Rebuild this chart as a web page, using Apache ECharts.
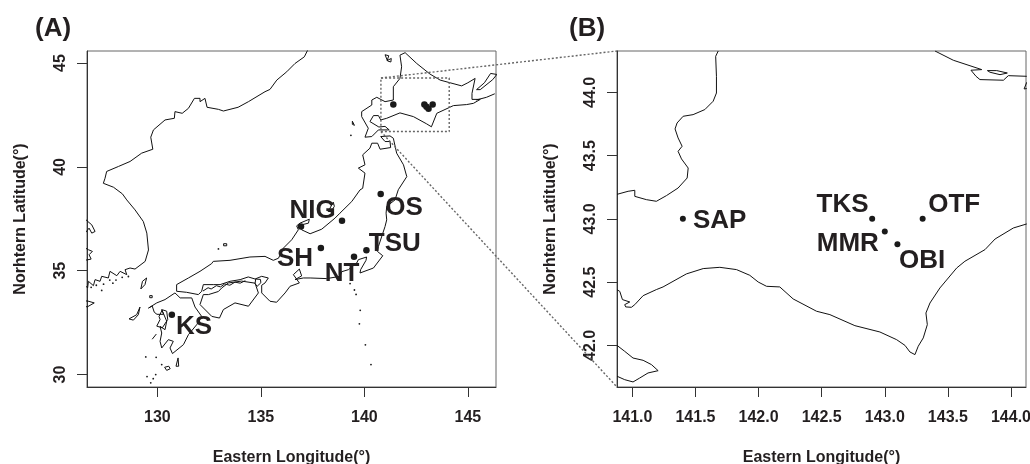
<!DOCTYPE html>
<html><head><meta charset="utf-8">
<style>html,body{margin:0;padding:0;background:#fff}#c{width:1030px;height:464px}</style>
<script src="https://cdn.jsdelivr.net/npm/echarts@6/dist/echarts.min.js"></script>
</head><body><div id="c"></div>
<script>
// Tick values
const xTicksA=[130,135,140,145], yTicksA=[30,35,40,45];
const xTicksB=[141,141.5,142,142.5,143,143.5,144], yTicksB=[42,42.5,43,43.5,44];
// Stations
const sitesA=[[141.4,43],[142.9,43],[143,42.9],[143.1,42.8],[143.3,43],[138.92,37.4],[140.79,38.69],[140.1,35.98],[139.5,35.67],[137.9,36.09],[136.94,37.13],[130.7,32.88]];
const labelsA=[[137.5,37.88,'NIG'],[141.92,38.04,'OS'],[141.47,36.31,'TSU'],[136.65,35.59,'SH'],[138.92,34.87,'NT'],[131.77,32.3,'KS']];
const sitesB=[[141.4,43],[142.9,43],[143,42.9],[143.1,42.8],[143.3,43]];
const labelsB=[[141.692,42.984,'SAP'],[142.665,43.108,'TKS'],[143.55,43.108,'OTF'],[142.707,42.8,'MMR'],[143.295,42.669,'OBI']];
// Inset rectangle in panel A and panel B view limits
const insetLon=[140.8,144.1], insetLat=[41.7,44.28];
const viewB={lon:[140.878,144.119],lat:[41.671,44.327]};
// Panel A coastlines [lon,lat]
const mainland=[[136.65,44.98],[136.25,44.58],[135.77,44.18],[135.44,43.73],[135.2,43.62],[134.4,43.14],[133.9,42.87],[133.19,42.69],[132.95,42.77],[132.4,42.87],[132.3,43.3],[132.06,43.14],[132.06,43.3],[131.79,43.3],[131.5,42.82],[131.2,42.58],[130.85,42.66],[130.82,42.34],[130.37,42.26],[129.81,41.78],[129.68,41.43],[129.78,40.85],[129.24,40.66],[128.68,40.26],[128.12,40.02],[127.55,39.78],[127.47,39.45],[127.39,39.21],[127.88,39.02],[128.31,38.7],[128.52,38.41],[128.92,37.93],[129.32,37.37],[129.49,36.81],[129.57,36],[129.41,35.45],[128.92,35.08],[128.68,35.13],[128.44,35.05],[128.52,34.81],[128.2,34.97],[128.04,34.76],[127.71,34.97],[127.63,34.65],[127.31,34.73],[127.23,34.49],[126.99,34.57],[126.91,34.28],[126.67,34.49],[126.63,34.17],[126.5,34.3]];
const mainlandTop=[[136.65,44.98],[137.1,45.3],[137.3,45.7]];
const westKorea=[[126.5,37.5],[126.64,37.37],[126.83,37.21],[126.99,36.89],[126.83,36.81],[126.7,37.05],[126.5,36.8]];
const westKorea2=[[126.5,36.1],[126.67,36.01],[126.86,35.93],[126.7,35.77],[126.8,35.56],[126.5,35.5]];
const hokkaido=[[141.97,45.5],[141.72,45.38],[141.8,44.82],[141.72,44.26],[141.4,43.86],[141.4,43.22],[141,43.14],[140.6,43.35],[140.36,43.22],[140.36,42.98],[139.87,42.66],[139.87,42.42],[140.19,41.86],[140.03,41.43],[140.36,41.46],[140.68,41.78],[141.2,41.78],[141,41.95],[140.7,41.92],[140.27,42.18],[140.44,42.47],[140.68,42.47],[140.79,42.26],[141.08,42.34],[141.72,42.6],[142.37,42.42],[143.01,42.07],[143.24,41.93],[143.5,42.58],[144.3,42.95],[144.94,43],[145.27,43.06],[145.6,43.25],[145.2,43.25],[145.2,43.54],[145.35,44.26],[145,44.05],[144.7,43.9],[144.14,44.05],[143.66,44.18],[143.17,44.47],[142.53,44.98],[141.97,45.5]];
const honshu=[[140.36,41.14],[140.27,40.9],[139.92,40.58],[140.03,40.1],[139.71,39.94],[140.03,39.7],[139.92,38.97],[139.79,38.89],[139.39,38.33],[138.82,37.77],[138.58,37.53],[137.94,37],[137.38,36.78],[136.97,36.97],[136.97,37.21],[137.3,37.29],[137.34,37.48],[136.89,37.29],[136.73,37.16],[136.81,36.97],[136.49,36.49],[136.09,36.09],[135.85,35.6],[135.6,35.5],[135.2,35.69],[134.47,35.66],[133.51,35.5],[132.7,35.45],[132.62,35.34],[132.06,34.97],[131.5,34.65],[130.93,34.33],[130.93,34.01],[131.41,33.96],[131.98,33.85],[132.14,34.01],[132.22,34.33],[132.7,34.33],[133.03,34.33],[133.51,34.49],[134,34.57],[134.39,34.7],[134.72,34.6],[135.04,34.73],[135.36,34.65],[135.2,34.41],[135.04,34.3],[135.04,33.93],[135.44,33.53],[135.76,33.48],[136.17,33.93],[136.41,34.25],[136.86,34.41],[136.57,34.81],[136.86,35.08],[136.97,34.75],[136.65,34.57],[137.05,34.65],[137.38,34.65],[138.18,34.62],[138.83,34.73],[138.9,34.95],[139.23,35.05],[139.63,35.37],[139.71,35.53],[140.11,35.66],[140.08,35.5],[139.82,35.05],[139.79,34.89],[140.44,35.13],[140.89,35.72],[140.63,35.93],[140.68,36.17],[141,37.13],[141.08,37.45],[141.05,37.77],[141.08,38.1],[141.48,38.41],[141.64,38.9],[142.05,39.53],[141.89,40.1],[141.56,40.66],[141.4,41.38],[141.48,41.38],[141.24,41.49],[140.79,41.46],[141,41.22],[141.24,41.22],[141.27,40.93],[140.76,40.85],[140.64,41.14],[140.36,41.14]];
const shikoku=[[132.22,33.85],[132.06,33.37],[132.63,32.8],[133,32.72],[133.19,33.13],[133.75,33.45],[134.4,33.29],[134.88,33.93],[134.72,34.4],[134.07,34.5],[133.43,34.41],[133.11,34.17],[132.95,34],[132.47,33.85],[132.22,33.85]];
const kyushu=[[129.57,33.2],[129.97,33.45],[130.37,33.61],[130.85,33.93],[131.1,33.69],[131.66,33.69],[131.82,33.25],[132.14,32.8],[131.9,32.4],[131.5,31.92],[131.26,31.44],[130.73,31.01],[130.61,31.28],[130.77,31.6],[130.53,31.68],[130.21,31.28],[130.13,31.6],[130.21,32],[130.13,32.32],[130.37,32.16],[130.45,32.57],[130.21,33.13],[130.3,32.9],[129.98,32.9],[129.85,33],[129.75,33.3],[129.57,33.2]];
const ariake=[[130.08,32.8],[130.24,33.12],[130.45,33.05],[130.5,32.65],[130.24,32.25],[129.97,32.33],[130.13,32.65],[130.08,32.8]];
const seto=[[132.2,34.02],[132.45,34.18],[132.6,34.12],[132.85,34.28],[133.05,34.22],[133.25,34.36],[133.5,34.3],[133.75,34.45],[134,34.4],[134.25,34.52]];
const awaji=[[134.75,34.6],[134.98,34.58],[135,34.42],[134.82,34.25],[134.72,34.38],[134.75,34.6]];
const goto=[[128.63,32.68],[129,32.88],[129.16,33.25],[129.08,32.88],[128.84,32.62],[128.63,32.68]];
const tsushima=[[129.2,34.12],[129.28,34.49],[129.48,34.65],[129.4,34.33],[129.2,34.12]];
const iki=[[129.63,33.8],[129.75,33.8],[129.75,33.7],[129.63,33.7],[129.63,33.8]];
const yakushima=[[130.35,30.35],[130.55,30.4],[130.62,30.28],[130.45,30.2],[130.35,30.35]];
const tanegashima=[[130.9,30.4],[131,30.8],[131.07,30.8],[131.03,30.4],[130.9,30.4]];
const koshiki=[[129.75,31.7],[129.95,31.95]];
const oki=[[133.2,36.3],[133.35,36.3],[133.35,36.2],[133.2,36.2],[133.2,36.3]];
const jeju=[[126.3,33.45],[126.6,33.55],[126.95,33.45],[126.6,33.25],[126.3,33.45]];
const sado=[[138.25,37.85],[138.5,38.3],[138.55,38.1],[138.4,37.85],[138.25,37.85]];
const rishiri=[[141.0,45.4],[141.18,45.35],[141.1,45.12],[141.3,45.22],[141.28,45.05],[141.12,45.1],[141.0,45.4]];
const okushiri=[[139.42,42.2],[139.48,42.2],[139.52,42],[139.42,42.05],[139.42,42.2]];
const kunashiri=[[145.42,43.72],[145.8,44.05],[146.1,44.5],[146.4,44.45],[146.2,44.2],[145.6,43.72],[145.42,43.72]];
const habomai=[[145.4,43.22],[145.9,43.35],[146.3,43.52]];
const islets=[[139.31,34.38],[139.52,34.07],[139.6,33.86],[139.8,33.09],[139.76,32.44],[140.05,31.43],[140.32,30.48],[129.44,30.85],[129.94,30.83],[130.21,30.48],[129.5,29.9],[129.92,30],[129.8,29.8],[129.68,29.6],[127.31,34.05],[132.95,36.05],[139.35,41.52],[126.8,34.2],[127.05,34.3],[127.4,34.35],[127.7,34.55],[128,34.55],[128.3,34.68],[128.6,34.72],[127.85,34.4]];
// Panel B coastlines [lon,lat]
const westB=[[141.68,44.327],[141.66,44.285],[141.666,44.127],[141.666,43.995],[141.64,43.93],[141.574,43.864],[141.481,43.824],[141.402,43.811],[141.354,43.758],[141.338,43.711],[141.362,43.64],[141.394,43.574],[141.362,43.534],[141.389,43.474],[141.442,43.402],[141.434,43.323],[141.362,43.244],[141.27,43.184],[141.19,43.139],[141.111,43.152],[141.019,43.178],[141.019,43.226],[140.966,43.218],[140.878,43.194]];
const pacificB=[[140.878,42.44],[140.9,42.427],[140.921,42.362],[140.979,42.343],[140.984,42.33],[140.939,42.322],[140.947,42.304],[140.992,42.301],[141.019,42.322],[141.085,42.393],[141.19,42.441],[141.243,42.462],[141.428,42.565],[141.561,42.607],[141.693,42.617],[141.825,42.599],[141.93,42.554],[141.997,42.501],[142.063,42.467],[142.168,42.462],[142.274,42.367],[142.459,42.27],[142.565,42.243],[142.763,42.156],[142.961,42.106],[143.094,42.045],[143.16,42],[143.199,41.948],[143.239,41.927],[143.265,41.993],[143.305,42.059],[143.337,42.164],[143.326,42.256],[143.358,42.335],[143.437,42.454],[143.57,42.612],[143.635,42.665],[143.794,42.757],[143.874,42.841],[144.019,42.928],[144.125,42.96]];
const southB=[[140.878,42],[140.939,41.953],[141.005,41.9],[141.085,41.882],[141.151,41.848],[141.204,41.8],[141.124,41.782],[141.058,41.742],[141.005,41.711],[140.939,41.729],[140.878,41.756]];
const northB=[[143.398,44.327],[143.543,44.254],[143.768,44.18],[143.683,44.175],[143.723,44.127],[143.754,44.101],[143.94,44.096],[143.979,44.132],[144.125,44.127]];
const lagoonB=[[143.813,44.172],[143.887,44.172],[143.971,44.153],[143.913,44.14],[143.834,44.159],[143.813,44.172]];
const cornerB=[[144.125,44.08],[144.104,44.027],[144.125,44.03]];

const coastsA=[mainland,mainlandTop,westKorea,westKorea2,hokkaido,honshu,shikoku,kyushu,ariake,seto,awaji,goto,tsushima,iki,yakushima,tanegashima,koshiki,oki,jeju,sado,rishiri,okushiri,kunashiri,habomai];
const coastsB=[westB,pacificB,southB,northB,lagoonB,cornerB];

const FONT='"Liberation Sans",Arial,sans-serif', INK='#231f20';
const coast=(d,i)=>({type:'line',data:d,xAxisIndex:i,yAxisIndex:i,showSymbol:false,symbol:'none',clip:true,silent:true,z:2,
  lineStyle:{color:'#111',width:1,join:'round'}});
const dots=(d,i,s)=>({type:'scatter',data:d,xAxisIndex:i,yAxisIndex:i,symbolSize:s,silent:true,z:3,itemStyle:{color:'#1a1a1a',opacity:1}});
const names=(d,i)=>({type:'scatter',data:d,xAxisIndex:i,yAxisIndex:i,symbolSize:0,silent:true,z:5,itemStyle:{opacity:1},
  label:{show:true,position:'inside',formatter:p=>p.value[2],fontFamily:FONT,fontWeight:'bold',fontSize:26,color:INK,opacity:1}});
const frame=(lon,lat)=>[[lon[0],lat[0]],[lon[1],lat[0]],[lon[1],lat[1]],[lon[0],lat[1]],[lon[0],lat[0]]];
const axisBase=(vals,fmt,g)=>({type:'value',gridIndex:g,
  axisLine:{show:true,onZero:false,lineStyle:{color:'#333',width:1}},
  axisTick:{show:true,length:10,inside:false,customValues:vals,lineStyle:{color:'#333',width:1}},
  axisLabel:{show:true,customValues:vals,formatter:fmt,fontFamily:FONT,fontWeight:'bold',fontSize:16,color:INK},
  splitLine:{show:false},
  nameLocation:'middle',nameTextStyle:{fontFamily:FONT,fontWeight:'bold',fontSize:16,color:INK}});
const xAxis=(min,max,vals,fmt,g)=>{const a=axisBase(vals,fmt,g);a.min=min;a.max=max;a.position='bottom';a.name='Eastern Longitude(\u00b0)';a.nameGap=63;a.axisLabel.margin=23;return a;};
const yAxis=(min,max,vals,fmt,g)=>{const a=axisBase(vals,fmt,g);a.min=min;a.max=max;a.position='left';a.name='Norhtern Latitude(\u00b0)';a.nameGap=58;a.nameRotate=90;a.axisLabel.rotate=90;a.axisLabel.margin=18;return a;};

const option={animation:false,backgroundColor:'#fff',
 title:[
  {text:'(A)',left:30,top:11,textStyle:{fontFamily:FONT,fontWeight:'bold',fontSize:26,color:INK}},
  {text:'(B)',left:564,top:11,textStyle:{fontFamily:FONT,fontWeight:'bold',fontSize:26,color:INK}}],
 grid:[
  {left:87,top:51,width:409,height:336,outerBoundsMode:'none',show:true,borderColor:'#666',borderWidth:1,backgroundColor:'transparent'},
  {left:617,top:51,width:409,height:336,outerBoundsMode:'none',show:true,borderColor:'#666',borderWidth:1,backgroundColor:'transparent'}],
 xAxis:[xAxis(126.6,146.36,xTicksA,v=>String(v),0),xAxis(viewB.lon[0],viewB.lon[1],xTicksB,v=>v.toFixed(1),1)],
 yAxis:[yAxis(29.4,45.58,yTicksA,v=>String(v),0),yAxis(viewB.lat[0],viewB.lat[1],yTicksB,v=>v.toFixed(1),1)],
 series:[
  ...coastsA.map(c=>coast(c,0)),
  ...coastsB.map(c=>coast(c,1)),
  dots(islets,0,1.8),
  dots(sitesA,0,6.5),dots(sitesB,1,6),
  names(labelsA,0),names(labelsB,1),
  {type:'line',data:frame(insetLon,insetLat),xAxisIndex:0,yAxisIndex:0,symbol:'none',silent:true,z:4,lineStyle:{color:'#666',width:1.4,type:[2,2]}}
 ]};
const chart=echarts.init(document.getElementById('c'),null,{renderer:'canvas'});
chart.setOption(option);
const link=(a,b)=>{const p=chart.convertToPixel({gridIndex:0},a),q=chart.convertToPixel({gridIndex:1},b);
  return {type:'line',silent:true,z:10,shape:{x1:p[0],y1:p[1],x2:q[0],y2:q[1]},style:{stroke:'#666',lineWidth:1.4,lineDash:[2,2]}};};
chart.setOption({graphic:[
  link([insetLon[0],insetLat[1]],[viewB.lon[0],viewB.lat[1]]),
  link([insetLon[0],insetLat[0]],[viewB.lon[0],viewB.lat[0]])]});
</script></body></html>
